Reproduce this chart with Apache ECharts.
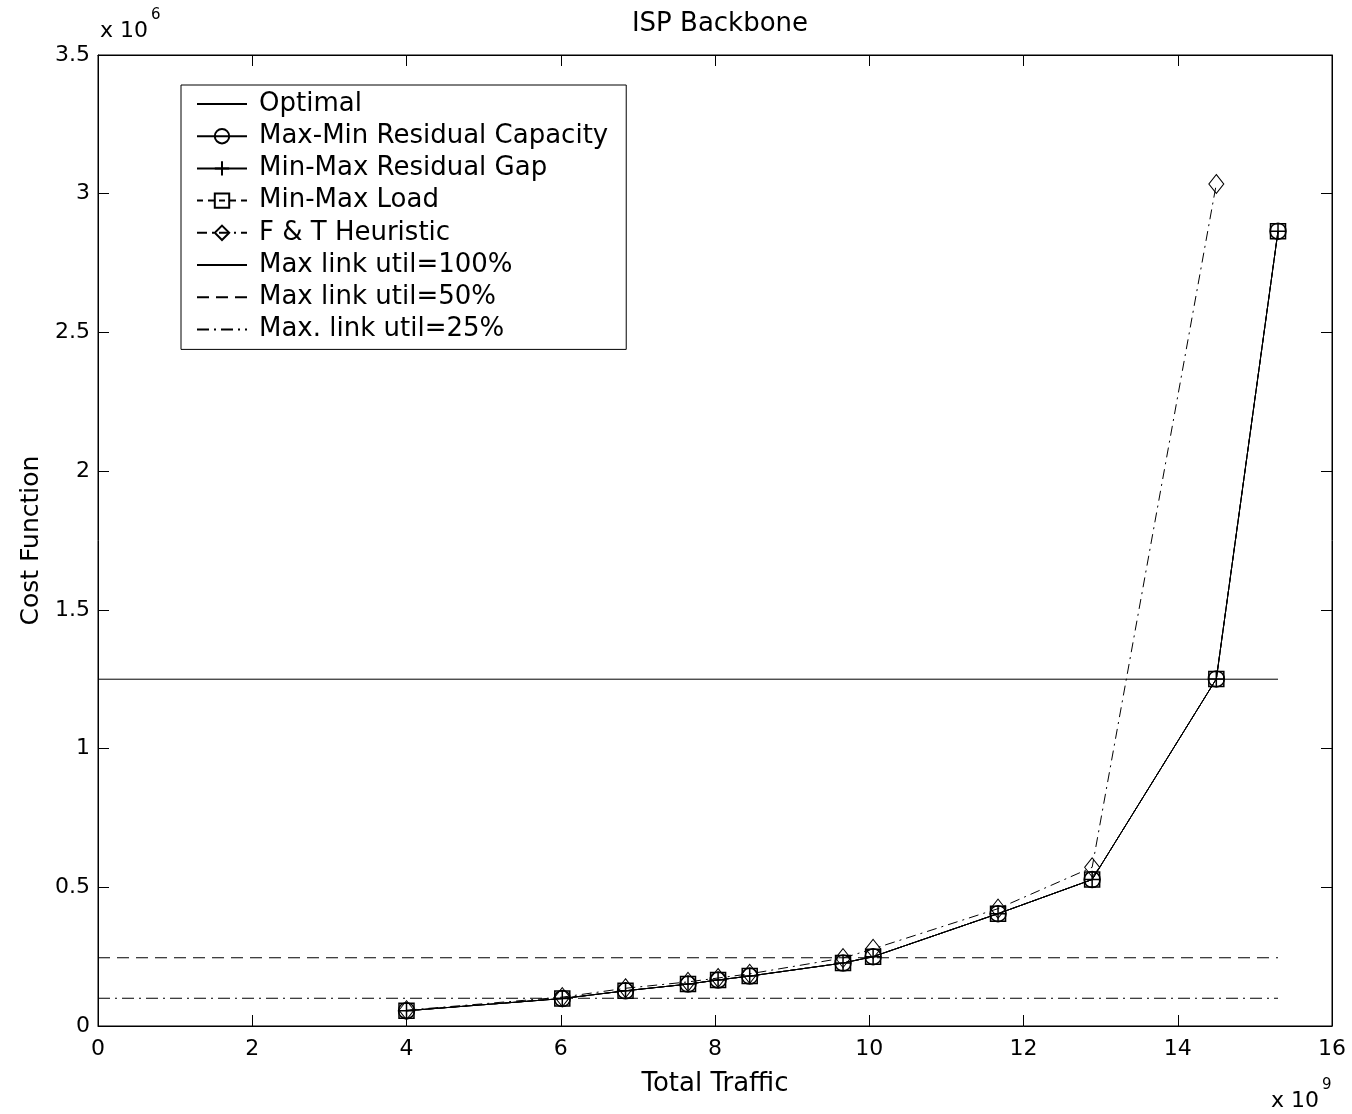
<!DOCTYPE html>
<html><head><meta charset="utf-8">
<script src="https://cdn.jsdelivr.net/npm/echarts@6/dist/echarts.min.js"></script>
<style>html,body{margin:0;padding:0;background:#fff}#c{width:1352px;height:1114px}</style>
</head><body><div id="c"></div>
<script>
// Traffic (x 10^9) and cost (x 10^6)
const traffic = [4.0, 6.02, 6.84, 7.65, 8.04, 8.45, 9.66, 10.05, 11.67, 12.89, 14.50, 15.30];
const optimalCost = [0.055, 0.099, 0.127, 0.151, 0.166, 0.180, 0.227, 0.250, 0.405, 0.528, 1.251, 2.865];
const maxMinResCap = [0.055, 0.099, 0.127, 0.151, 0.166, 0.180, 0.227, 0.250, 0.405, 0.528, 1.251, 2.865];
const minMaxResGap = [0.055, 0.099, 0.127, 0.151, 0.166, 0.180, 0.227, 0.250, 0.405, 0.528, 1.251, 2.865];
const minMaxLoad = [0.055, 0.099, 0.127, 0.151, 0.166, 0.180, 0.227, 0.250, 0.405, 0.528, 1.251, 2.865];
const ftTraffic = [4.0, 6.02, 6.84, 7.65, 8.04, 8.45, 9.66, 10.05, 11.67, 12.89, 14.50];
const ftHeuristic = [0.057, 0.104, 0.136, 0.159, 0.173, 0.188, 0.245, 0.278, 0.423, 0.572, 3.035];
const refX = [0, 15.30];
const util100 = 1.25;
const util50 = 0.246;
const util25 = 0.10;
const seriesNames = ['Optimal','Max-Min Residual Capacity','Min-Max Residual Gap','Min-Max Load','F & T Heuristic','Max link util=100%','Max link util=50%','Max. link util=25%'];
const noSymbolNames = ['Optimal','Max link util=100%','Max link util=50%','Max. link util=25%'];

const FONT = 'DejaVu Sans';
const pair = (xs, ys) => xs.map((x, i) => [x, ys[i]]);
const hollow = () => ({color: 'rgba(0,0,0,0)', borderColor: '#000', borderWidth: 1.5});
const chart = echarts.init(document.getElementById('c'), null, {renderer: 'canvas'});

function axis(extra) {
  return Object.assign({
    type: 'value', splitLine: {show: false},
    axisLine: {show: true, onZero: false, lineStyle: {color: '#000', width: 1}},
    axisTick: {show: true, inside: true, length: 11, lineStyle: {color: '#000', width: 1}},
  }, extra);
}

chart.setOption({
  animation: false,
  backgroundColor: '#fff',
  textStyle: {fontFamily: FONT, color: '#000'},
  title: {text: 'ISP Backbone', left: 715, top: 6, textAlign: 'center',
    textStyle: {fontFamily: FONT, fontSize: 26, fontWeight: 'normal', color: '#000'}},
  grid: {left: 98, right: 20, top: 55, bottom: 88, show: true, borderColor: '#000', borderWidth: 1},
  legend: {
    orient: 'vertical', left: 181, top: 85,
    data: seriesNames.map(n => noSymbolNames.includes(n) ? {name: n, itemStyle: {opacity: 0}} : {name: n}),
    backgroundColor: '#fff', borderColor: '#000', borderWidth: 1,
    padding: [6, 18, 7, 15], itemGap: 6.2, itemWidth: 50, itemHeight: 18,
    textStyle: {fontFamily: FONT, fontSize: 26, color: '#000', lineHeight: 26, padding: [0, 0, 0, 7]},
    selectedMode: false
  },
  xAxis: [
    axis({min: 0, max: 16, interval: 2, position: 'bottom',
      name: 'Total Traffic', nameLocation: 'middle', nameGap: 45,
      nameTextStyle: {fontFamily: FONT, fontSize: 26, color: '#000'},
      axisLabel: {fontFamily: FONT, fontSize: 22, color: '#000', margin: 12}}),
    axis({min: 0, max: 16, interval: 2, position: 'top', axisLabel: {show: false}})
  ],
  yAxis: [
    axis({min: 0, max: 3.5, interval: 0.5, position: 'left',
      name: 'Cost Function', nameLocation: 'middle', nameGap: 54,
      nameTextStyle: {fontFamily: FONT, fontSize: 25, color: '#000'},
      axisLabel: {fontFamily: FONT, fontSize: 22, color: '#000', margin: 8}}),
    axis({min: 0, max: 3.5, interval: 0.5, position: 'right', axisLabel: {show: false}})
  ],
  graphic: [
    {type: 'text', left: 100, top: 8, style: {text: '{b|x 10}{s|6}', fill: '#000',
      rich: {b: {fontFamily: FONT, fontSize: 22, padding: [12, 0, 0, 0]}, s: {fontFamily: FONT, fontSize: 15, verticalAlign: 'top', padding: [0, 0, 0, 3]}}}},
    {type: 'text', left: 1271, top: 1078, style: {text: '{b|x 10}{s|9}', fill: '#000',
      rich: {b: {fontFamily: FONT, fontSize: 22, padding: [12, 0, 0, 0]}, s: {fontFamily: FONT, fontSize: 15, verticalAlign: 'top', padding: [0, 0, 0, 3]}}}}
  ],
  series: [
    {name: seriesNames[0], type: 'line', data: pair(traffic, optimalCost), symbol: 'none',
      lineStyle: {color: '#000', width: 1}, itemStyle: {color: '#000'}, z: 3},
    {name: seriesNames[1], type: 'line', data: pair(traffic, maxMinResCap), symbol: 'circle', symbolSize: 16,
      lineStyle: {color: '#000', width: 1}, itemStyle: hollow(), z: 4},
    {name: seriesNames[2], type: 'line', data: pair(traffic, minMaxResGap), symbol: 'path://M10,0 L10,20 M0,10 L20,10', symbolSize: 16,
      lineStyle: {color: '#000', width: 1}, itemStyle: hollow(), z: 4},
    {name: seriesNames[3], type: 'line', data: pair(traffic, minMaxLoad), symbol: 'rect', symbolSize: 15,
      lineStyle: {color: '#000', width: 1, type: [6, 5]}, itemStyle: hollow(), z: 4},
    {name: seriesNames[4], type: 'line', data: pair(ftTraffic, ftHeuristic), symbol: 'diamond', symbolSize: [15, 19],
      lineStyle: {color: '#000', width: 1, type: [10, 5, 2, 5]}, itemStyle: {color: 'rgba(0,0,0,0)', borderColor: '#000', borderWidth: 1}, z: 3},
    {name: seriesNames[5], type: 'line', data: pair(refX, [util100, util100]), symbol: 'none',
      lineStyle: {color: '#000', width: 1}, itemStyle: {color: '#000'}, z: 2},
    {name: seriesNames[6], type: 'line', data: pair(refX, [util50, util50]), symbol: 'none',
      lineStyle: {color: '#000', width: 1, type: [12, 7]}, itemStyle: {color: '#000'}, z: 2},
    {name: seriesNames[7], type: 'line', data: pair(refX, [util25, util25]), symbol: 'none',
      lineStyle: {color: '#000', width: 1, type: [12, 5, 2, 5]}, itemStyle: {color: '#000'}, z: 2}
  ]
});
</script></body></html>
